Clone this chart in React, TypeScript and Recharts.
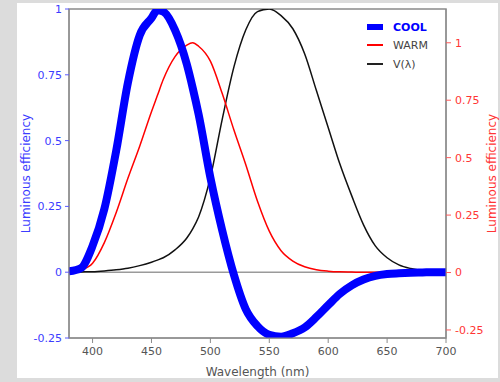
import {
  Line,
  LineChart,
  ReferenceArea,
  ReferenceLine,
  XAxis,
  YAxis,
} from 'recharts';

const WAVELENGTHS = [
  380, 390, 400, 410, 420, 430, 440, 450, 455, 460, 470, 480, 485, 490, 500, 510, 520, 530, 540, 550,
  560, 570, 580, 590, 600, 610, 620, 630, 640, 650, 660, 670, 680, 690, 700,
];

const COOL = [
  0.003, 0.015, 0.1, 0.24, 0.46, 0.72, 0.9, 0.965, 0.995, 0.99, 0.92, 0.79, 0.7, 0.6, 0.36, 0.16,
  -0.01, -0.14, -0.205, -0.238, -0.245, -0.232, -0.21, -0.17, -0.125, -0.082, -0.05, -0.028, -0.014,
  -0.007, -0.004, -0.002, -0.001, 0, 0,
];

const WARM = [
  0, 0.01, 0.04, 0.13, 0.26, 0.41, 0.55, 0.7, 0.77, 0.84, 0.94, 0.99, 1.0, 0.985, 0.92, 0.78, 0.62,
  0.47, 0.31, 0.18, 0.095, 0.05, 0.025, 0.012, 0.006, 0.003, 0.002, 0.001, 0.001, 0.001, 0.001,
  0.001, 0.001, 0.001, 0.001,
];

const V_LAMBDA = [
  0, 0.001, 0.002, 0.005, 0.009, 0.015, 0.025, 0.038, 0.046, 0.055, 0.085, 0.13, 0.165, 0.21, 0.36,
  0.58, 0.78, 0.92, 0.99, 1.0, 0.975, 0.925, 0.83, 0.69, 0.55, 0.41, 0.29, 0.18, 0.1, 0.055, 0.028,
  0.014, 0.006, 0.002, 0.001,
];

const X_TICKS = [400, 450, 500, 550, 600, 650, 700];
const Y_TICKS = [-0.25, 0, 0.25, 0.5, 0.75, 1];

const data = WAVELENGTHS.map((w, i) => ({
  w,
  cool: COOL[i],
  warm: WARM[i],
  v: V_LAMBDA[i],
}));

const BLUE = '#0000ff';
const RED = '#ff0000';
const AXIS = '#8a8a8a';
const FONT = "'DejaVu Sans', Verdana, sans-serif";

const fmt = (v: number) => String(v);

function LegendBox() {
  const row = { display: 'flex', alignItems: 'center', height: 18 };
  const text = { marginLeft: 10, fontSize: 11, color: '#444' };
  return (
    <div style={{ position: 'absolute', left: 367, top: 18, fontFamily: FONT }}>
      <div style={row}>
        <div style={{ width: 16, height: 6, background: BLUE }} />
        <span style={{ ...text, color: BLUE, fontWeight: 'bold' }}>COOL</span>
      </div>
      <div style={row}>
        <div style={{ width: 16, height: 2, background: RED }} />
        <span style={text}>WARM</span>
      </div>
      <div style={{ ...row, marginTop: 1 }}>
        <div style={{ width: 16, height: 2, background: '#222' }} />
        <span style={text}>V(λ)</span>
      </div>
    </div>
  );
}

export default function App() {
  return (
    <div
      style={{
        position: 'absolute',
        left: 0,
        top: 0,
        width: 500,
        height: 382,
        background: '#dcdcdc',
        fontFamily: FONT,
      }}
    >
      <div
        style={{
          position: 'absolute',
          left: 17,
          top: 3,
          width: 481,
          height: 375,
          background: '#fff',
        }}
      />
      <div style={{ position: 'absolute', left: 0, top: 0 }}>
        <LineChart width={500} height={382} data={data} margin={{ top: 9, right: 0, bottom: 0, left: 0 }}>
          <XAxis
            dataKey="w"
            type="number"
            domain={[380, 700]}
            ticks={X_TICKS}
            allowDataOverflow
            height={44}
            stroke={AXIS}
            tickSize={5}
            tickMargin={4}
            tick={{ fontSize: 11, fill: '#555' }}
            label={{ value: 'Wavelength (nm)', position: 'insideBottom', offset: 6, fontSize: 12, fill: '#555' }}
          />
          <YAxis
            yAxisId="left"
            domain={[-0.25, 1]}
            ticks={Y_TICKS}
            allowDataOverflow
            width={69}
            stroke={AXIS}
            tickSize={4}
            tickMargin={3}
            tickFormatter={fmt}
            tick={{ fontSize: 11, fill: '#3c3cff' }}
            tickLine={{ stroke: '#5a5aff' }}
            label={{
              value: 'Luminous efficiency',
              angle: -90,
              position: 'insideLeft',
              offset: 26,
              fontSize: 12,
              fill: '#3c3cff',
              style: { textAnchor: 'middle' },
            }}
          />
          <YAxis
            yAxisId="right"
            orientation="right"
            domain={[-0.285, 1.147]}
            ticks={Y_TICKS}
            allowDataOverflow
            width={54}
            stroke={AXIS}
            tickSize={5}
            tickMargin={4}
            tickFormatter={fmt}
            tick={{ fontSize: 11, fill: '#ff3535' }}
            tickLine={{ stroke: '#ff5a5a' }}
            label={{
              value: 'Luminous efficiency',
              angle: -90,
              position: 'insideRight',
              offset: 8,
              fontSize: 12,
              fill: '#ff3535',
              style: { textAnchor: 'middle' },
            }}
          />
          <ReferenceArea
            yAxisId="left"
            x1={380}
            x2={700}
            y1={-0.25}
            y2={1}
            fill="none"
            stroke={AXIS}
            strokeWidth={1.5}
          />
          <ReferenceLine yAxisId="left" y={0} stroke="#9a9a9a" strokeWidth={1.5} />
          <Line
            yAxisId="left"
            dataKey="v"
            type="monotone"
            stroke="#111"
            strokeWidth={1.5}
            dot={false}
            isAnimationActive={false}
          />
          <Line
            yAxisId="right"
            dataKey="warm"
            type="monotone"
            stroke={RED}
            strokeWidth={1.5}
            dot={false}
            isAnimationActive={false}
          />
          <Line
            yAxisId="left"
            dataKey="cool"
            type="monotone"
            stroke={BLUE}
            strokeWidth={8}
            dot={false}
            isAnimationActive={false}
          />
        </LineChart>
      </div>
      <LegendBox />
    </div>
  );
}
